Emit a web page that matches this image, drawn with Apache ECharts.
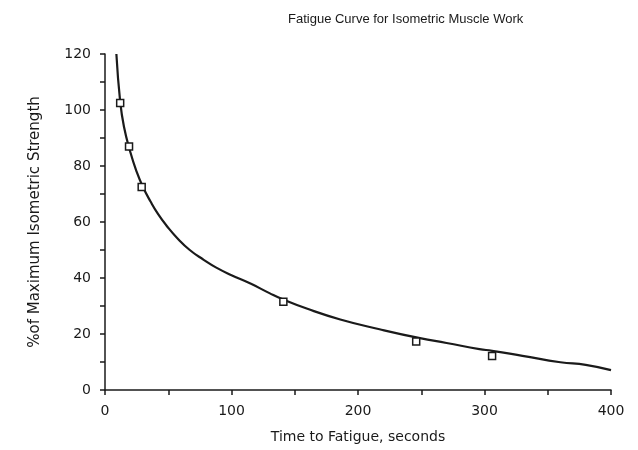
<!DOCTYPE html>
<html>
<head>
<meta charset="utf-8">
<script src="https://cdn.jsdelivr.net/npm/echarts@6.0.0/dist/echarts.min.js"></script>
<style>
  html, body { margin: 0; padding: 0; background: #fff; }
</style>
</head>
<body>
<div id="fatigue-chart" style="width: 638px; height: 450px"></div>
<script>
// measured points (open squares)
var pointTime = [12, 19, 29, 141, 246, 306];
var pointStrength = [102.5, 87, 72.5, 31.5, 17.3, 12.1];

// fitted curve
var curveTime = [9, 12, 15, 20, 25, 30, 36, 42, 49, 57, 67, 78, 88, 100, 115, 130, 140, 160, 186, 217, 249, 270, 296, 306, 330, 360, 380, 400];
var curveStrength = [120, 103, 94, 85, 78, 72.5, 67.3, 62.8, 58.5, 54.3, 50, 46.5, 43.7, 41, 38, 34.6, 32.5, 29, 25.2, 21.7, 18.5, 16.8, 14.6, 14, 12.2, 9.9, 9, 7.1];

var xTicks = [0, 100, 200, 300, 400];
var yTicks = [0, 20, 40, 60, 80, 100, 120];

var ink = "#1a1a1a";
var font = "DejaVu Sans";

var myChart = echarts.init(document.getElementById("fatigue-chart"));

var option = {
  animation: false,
  title: {
    text: "Fatigue Curve for Isometric Muscle Work",
    left: 283,
    top: 8,
    textStyle: { fontFamily: "Liberation Sans", fontSize: 13, fontWeight: "normal", color: ink }
  },
  grid: { left: 105, right: 27, top: 54, bottom: 60 },
  xAxis: {
    type: "value",
    min: xTicks[0],
    max: xTicks[xTicks.length - 1],
    interval: 100,
    name: "Time to Fatigue, seconds",
    nameLocation: "middle",
    nameGap: 40,
    nameTextStyle: { fontFamily: font, fontSize: 14, color: ink },
    axisLine: { lineStyle: { color: ink, width: 1.5 } },
    axisTick: { length: 5, lineStyle: { color: ink, width: 1.5 } },
    minorTick: { show: true, splitNumber: 2, length: 5, lineStyle: { color: ink, width: 1.5 } },
    axisLabel: { margin: 14, fontFamily: font, fontSize: 14, color: ink },
    splitLine: { show: false }
  },
  yAxis: {
    type: "value",
    min: yTicks[0],
    max: yTicks[yTicks.length - 1],
    interval: 20,
    name: "%of Maximum Isometric Strength",
    nameLocation: "middle",
    nameGap: 62,
    nameTextStyle: { fontFamily: font, fontSize: 15, color: ink },
    axisLine: { show: true, lineStyle: { color: ink, width: 1.5 } },
    axisTick: { show: true, length: 5, lineStyle: { color: ink, width: 1.5 } },
    minorTick: { show: true, splitNumber: 2, length: 5, lineStyle: { color: ink, width: 1.5 } },
    axisLabel: { margin: 14, fontFamily: font, fontSize: 14, color: ink },
    splitLine: { show: false }
  },
  series: [
    {
      name: "Curve",
      type: "line",
      smooth: 0.5,
      showSymbol: false,
      data: curveTime.map(function (t, i) { return [t, curveStrength[i]]; }),
      lineStyle: { color: ink, width: 2.2 },
      z: 2
    },
    {
      name: "Measured",
      type: "scatter",
      symbol: "rect",
      symbolSize: 7,
      data: pointTime.map(function (t, i) { return [t, pointStrength[i]]; }),
      itemStyle: { color: "#fff", borderColor: ink, borderWidth: 1.5, opacity: 1 },
      z: 3
    }
  ]
};

myChart.setOption(option);
</script>
</body>
</html>
